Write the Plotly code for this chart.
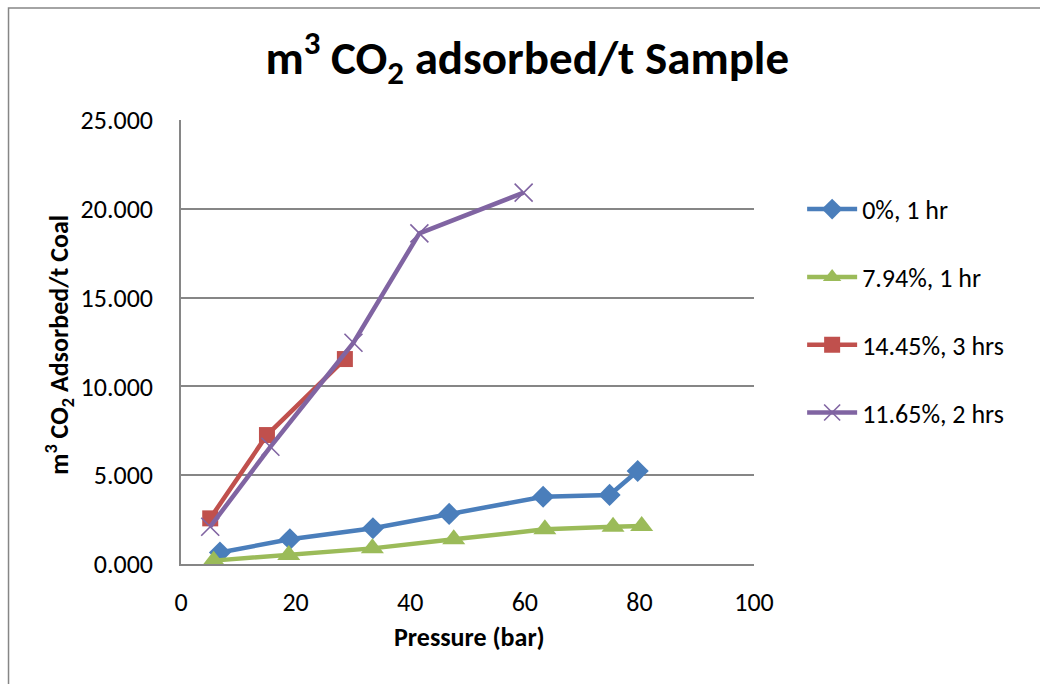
import plotly.graph_objects as go

# Data
names = ["0%, 1 hr", "7.94%, 1 hr", "14.45%, 3 hrs", "11.65%, 2 hrs"]
p_0 = [6.8, 19.0, 33.5, 46.8, 63.2, 74.8, 79.7]
v_0 = [0.65, 1.39, 2.01, 2.82, 3.79, 3.89, 5.24]
p_794 = [5.7, 18.8, 33.4, 47.6, 63.5, 75.4, 80.4]
v_794 = [0.19, 0.50, 0.88, 1.39, 1.95, 2.10, 2.14]
p_1445 = [5.1, 15.0, 28.6]
v_1445 = [2.57, 7.26, 11.54]
p_1165 = [5.1, 15.6, 30.1, 41.6, 59.8]
v_1165 = [2.10, 6.60, 12.46, 18.62, 20.91]
x_ticks = [0, 20, 40, 60, 80, 100]
y_ticks = [0, 5, 10, 15, 20, 25]

colors = ["#4A7EBB", "#9BBB59", "#C0504D", "#8064A2"]
symbols = ["diamond", "triangle-up", "square", "x-thin"]
sizes = [17, 20, 16, 18]
xs = [p_0, p_794, p_1445, p_1165]
ys = [v_0, v_794, v_1445, v_1165]

FONT = "Calibri, Carlito, Lato, sans-serif"

fig = go.Figure()
for i in range(4):
    mk = dict(symbol=symbols[i], size=sizes[i], color=colors[i])
    if symbols[i] == "x-thin":
        mk["line"] = dict(color=colors[i], width=1.6)
    fig.add_trace(go.Scatter(
        x=xs[i], y=ys[i], mode="lines+markers", name=names[i],
        legendgroup=f"g{i}",
        line=dict(color=colors[i], width=4.5),
        marker=mk,
    ))

fig.update_layout(
    width=1040, height=684,
    margin=dict(l=181, r=286, t=120, b=120),
    paper_bgcolor="white", plot_bgcolor="white",
    font=dict(family=FONT, size=24, color="#000000"),
    title=dict(text="m<sup>3</sup> CO<sub>2</sub> adsorbed/t Sample",
               x=0.507, xanchor="center", y=0.916, yanchor="middle",
               font=dict(family=FONT, size=47, color="#000000", weight="bold")),
    showlegend=True,
    legend=dict(x=1.084, xanchor="left", y=0.852, yanchor="top",
                font=dict(family=FONT, size=26), tracegroupgap=31,
                itemwidth=50, bgcolor="rgba(0,0,0,0)"),
    xaxis=dict(range=[0, 100], tickvals=x_ticks, showgrid=False,
               showline=True, linecolor="#868686", linewidth=1.5,
               ticks="", ticklabelstandoff=14, zeroline=False,
               tickfont=dict(family=FONT, size=26)),
    yaxis=dict(range=[0, 25], tickvals=y_ticks, tickformat=".3f",
               showgrid=True, gridcolor="#868686", gridwidth=1.5,
               showline=True, linecolor="#868686", linewidth=1.5,
               ticks="", ticklabelstandoff=21, zeroline=False,
               tickfont=dict(family=FONT, size=26)),
    annotations=[
        dict(text="Pressure (bar)", xref="paper", yref="paper",
             x=0.503, y=-0.164, xanchor="center", yanchor="middle",
             showarrow=False, font=dict(family=FONT, size=26, weight="bold")),
        dict(text="m<sup>3</sup> CO<sub>2</sub> Adsorbed/t Coal", xref="paper", yref="paper",
             x=-0.212, y=0.493, xanchor="center", yanchor="middle", textangle=-90,
             showarrow=False, font=dict(family=FONT, size=26, weight="bold")),
    ],
    shapes=[
        dict(type="rect", xref="paper", yref="paper",
             x0=-0.301, x1=1.6, y0=-0.4, y1=1.252,
             line=dict(color="#868686", width=1.5), fillcolor="rgba(0,0,0,0)",
             layer="below"),
    ],
)

fig.write_html("out.html")
